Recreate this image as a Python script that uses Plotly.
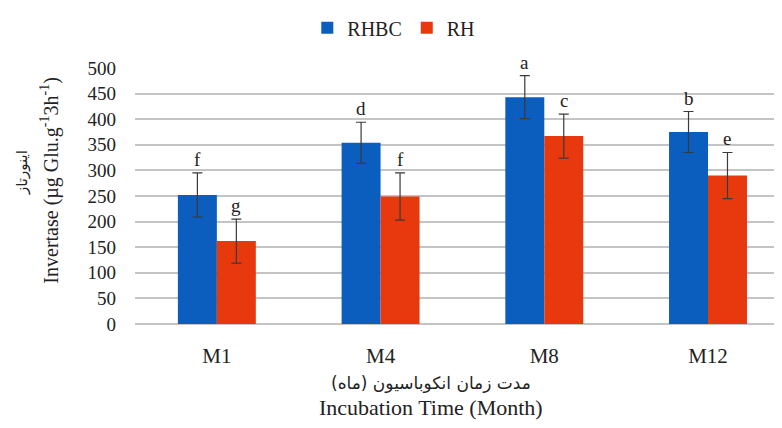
import plotly.graph_objects as go

categories = ["M1", "M4", "M8", "M12"]
rhbc_values = [252, 354, 443, 375]
rhbc_errors = [43, 40, 42, 40]
rhbc_letters = ["f", "d", "a", "b"]
rh_values = [162, 249, 367, 290]
rh_errors = [43, 46, 43, 45]
rh_letters = ["g", "f", "c", "e"]
y_ticks = [0, 50, 100, 150, 200, 250, 300, 350, 400, 450, 500]

BLUE = "#0B5DBE"
RED = "#E8380D"
SERIF = "Liberation Serif, Times New Roman, serif"
ARAB = "DejaVu Sans, sans-serif"
TXT = "#222222"

fig = go.Figure()
fig.add_trace(go.Bar(
    name="RHBC", x=categories, y=rhbc_values, marker=dict(color=BLUE, line=dict(width=0)),
    error_y=dict(type="data", array=rhbc_errors, color="#3a3a3a", thickness=1.2, width=5),
))
fig.add_trace(go.Bar(
    name="RH", x=categories, y=rh_values, marker=dict(color=RED, line=dict(width=0)),
    error_y=dict(type="data", array=rh_errors, color="#3a3a3a", thickness=1.2, width=5),
))

off = 0.119
for i, c in enumerate(categories):
    fig.add_annotation(x=i - off, y=rhbc_values[i] + rhbc_errors[i], text=rhbc_letters[i],
                       showarrow=False, yanchor="bottom", yshift=1,
                       font=dict(family=SERIF, size=19, color=TXT))
    fig.add_annotation(x=i + off, y=rh_values[i] + rh_errors[i], text=rh_letters[i],
                       showarrow=False, yanchor="bottom", yshift=1,
                       font=dict(family=SERIF, size=19, color=TXT))

# y-axis titles (Persian + English)
fig.add_annotation(xref="paper", yref="paper", x=0, y=0.59, xshift=-113, textangle=-90,
                   text="اینورتاز", showarrow=False, xanchor="center", yanchor="middle",
                   font=dict(family=ARAB, size=15, color=TXT))
fig.add_annotation(xref="paper", yref="paper", x=0, y=0.56, xshift=-85, textangle=-90,
                   text="Invertase (µg Glu.g<sup>-1</sup>3h<sup>-1</sup>)", showarrow=False,
                   xanchor="center", yanchor="middle",
                   font=dict(family=SERIF, size=20, color=TXT))
# x-axis titles
fig.add_annotation(xref="paper", yref="paper", x=0.4575, y=-0.23,
                   text="مدت زمان انکوباسیون (ماه)", showarrow=False,
                   xanchor="center", yanchor="middle",
                   font=dict(family=ARAB, size=17, color=TXT))
fig.add_annotation(xref="paper", yref="paper", x=0.4575, y=-0.3257,
                   text="Incubation Time (Month)", showarrow=False,
                   xanchor="center", yanchor="middle",
                   font=dict(family=SERIF, size=22, color=TXT))

# page body has an 8px margin: size the figure so the plot lands where the reference has it
fig.update_layout(
    width=774, height=420,
    margin=dict(l=127, r=0, t=55, b=104),
    font=dict(family=SERIF, color=TXT),
    paper_bgcolor="white", plot_bgcolor="white",
    barmode="group", bargap=0.524, bargroupgap=0,
    showlegend=True,
    legend=dict(orientation="h", x=0.40, xanchor="center", y=1.157, yanchor="middle",
                font=dict(family=SERIF, size=20, color=TXT), itemwidth=30,
                tracegroupgap=0, bgcolor="rgba(0,0,0,0)"),
    xaxis=dict(range=[-0.5, 3.452], showgrid=False, showline=False, zeroline=False,
               tickfont=dict(family=SERIF, size=21, color=TXT), ticks="", ticklabelstandoff=17),
    yaxis=dict(range=[0, 500], tickvals=y_ticks, showgrid=True, gridcolor="#c4c4c4", gridwidth=1.6,
               zeroline=True, zerolinecolor="#c4c4c4", zerolinewidth=1.6, showline=False,
               tickfont=dict(family=SERIF, size=19, color=TXT), ticks="", ticklabelstandoff=18),
)

fig.write_html("out.html")
